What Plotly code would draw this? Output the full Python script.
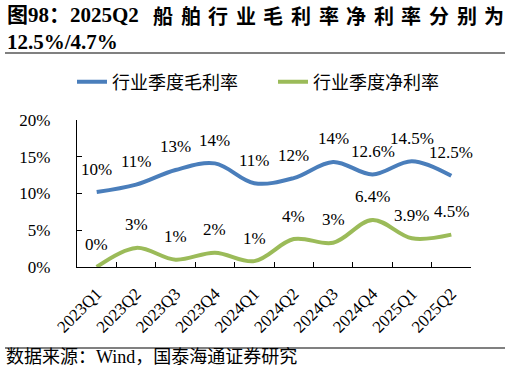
import plotly.graph_objects as go

categories = ["2023Q1", "2023Q2", "2023Q3", "2023Q4", "2024Q1",
              "2024Q2", "2024Q3", "2024Q4", "2025Q1", "2025Q2"]
gross_margin = [10.2, 11.2, 13.2, 14.1, 11.4, 12.1, 14.3, 12.6, 14.4, 12.4]
net_margin = [0.0, 2.6, 1.0, 1.95, 0.8, 3.8, 3.3, 6.4, 3.9, 4.4]
gross_labels = ["10%", "11%", "13%", "14%", "11%", "12%", "14%", "12.6%", "14.5%", "12.5%"]
net_labels = ["0%", "3%", "1%", "2%", "1%", "4%", "3%", "6.4%", "3.9%", "4.5%"]
y_ticks = [0, 5, 10, 15, 20]
y_tick_labels = ["0%", "5%", "10%", "15%", "20%"]
series_names = ["行业季度毛利率", "行业季度净利率"]
title_head = "图98：2025Q2"
title_chars = list("船舶行业毛利率净利率分别为")
title_line2 = "12.5%/4.7%"
source_text = "数据来源：Wind，国泰海通证券研究"

W, H = 510, 375
ML, MR, MT, MB = 77, 39, 120, 108
PW, PH = W - ML - MR, H - MT - MB

def px(x):
    return (x - ML) / PW

def py(y):
    return (H - MB - y) / PH

SERIF = "Liberation Serif, Times New Roman, Noto Sans CJK SC, serif"
CJK = "Noto Sans CJK SC, sans-serif"
BLUE = "#4A7EBB"
GREEN = "#9BBB59"

fig = go.Figure()
fig.add_trace(go.Scatter(x=categories, y=gross_margin, mode="lines", name=series_names[0],
                         line=dict(color=BLUE, width=4, shape="spline", smoothing=1.0)))
fig.add_trace(go.Scatter(x=categories, y=net_margin, mode="lines", name=series_names[1],
                         line=dict(color=GREEN, width=4, shape="spline", smoothing=1.0)))

annotations = []
for c, v, t in zip(categories, gross_margin, gross_labels):
    annotations.append(dict(x=c, y=v, xref="x", yref="y", text=t, showarrow=False,
                            yshift=23, font=dict(family=SERIF, size=17, color="black")))
for c, v, t in zip(categories, net_margin, net_labels):
    annotations.append(dict(x=c, y=v, xref="x", yref="y", text=t, showarrow=False,
                            yshift=23, font=dict(family=SERIF, size=17, color="black")))

# title
annotations.append(dict(x=px(5), y=py(15), xref="paper", yref="paper", text=title_head,
                        showarrow=False, xanchor="left", yanchor="middle",
                        font=dict(family=SERIF, size=21, color="black", weight="bold")))
for i, ch in enumerate(title_chars):
    annotations.append(dict(x=px(163 + i * 27.6), y=py(15), xref="paper", yref="paper", text=ch,
                            showarrow=False, xanchor="center", yanchor="middle",
                            font=dict(family=CJK, size=20, color="black", weight="bold")))
annotations.append(dict(x=px(5), y=py(42), xref="paper", yref="paper", text=title_line2,
                        showarrow=False, xanchor="left", yanchor="middle",
                        font=dict(family=SERIF, size=21, color="black", weight="bold")))
annotations.append(dict(x=px(4), y=py(357), xref="paper", yref="paper", text=source_text,
                        showarrow=False, xanchor="left", yanchor="middle",
                        font=dict(family="Liberation Serif, Noto Sans CJK SC, serif", size=18, color="black")))

shapes = [
    dict(type="line", xref="paper", yref="paper", x0=px(5), x1=px(505), y0=py(53), y1=py(53),
         line=dict(color="#808080", width=2)),
    dict(type="line", xref="paper", yref="paper", x0=px(5), x1=px(505), y0=py(348), y1=py(348),
         line=dict(color="#808080", width=2)),
]

fig.update_layout(
    width=W, height=H,
    margin=dict(l=ML, r=MR, t=MT, b=MB, pad=0, autoexpand=False),
    paper_bgcolor="white", plot_bgcolor="white",
    font=dict(family=SERIF, size=17, color="black"),
    showlegend=True,
    legend=dict(orientation="h", x=px(72), y=py(82), xanchor="left", yanchor="middle",
                font=dict(family=CJK, size=18, color="black"),
                entrywidth=156, bgcolor="rgba(0,0,0,0)", borderwidth=0),
    annotations=annotations,
    shapes=shapes,
    xaxis=dict(type="category", range=[-0.5, 9.5], tickson="boundaries",
               ticks="inside", ticklen=5, tickcolor="black", tickwidth=1,
               showline=True, linecolor="black", linewidth=1.2, showgrid=False,
               tickangle=-45, tickfont=dict(family=SERIF, size=17, color="black"),
               ticklabelstandoff=9, zeroline=False, automargin=False),
    yaxis=dict(range=[0, 20], tickmode="array", tickvals=y_ticks, ticktext=y_tick_labels,
               ticks="inside", ticklen=5, tickcolor="black", tickwidth=1,
               showline=True, linecolor="black", linewidth=1.2, showgrid=False,
               zeroline=False, tickfont=dict(family=SERIF, size=17, color="black"),
               ticklabelstandoff=22, automargin=False),
)

fig.write_html("out.html", config={"displayModeBar": False},
               post_script="document.body.style.margin='0';document.body.style.overflow='hidden';")
